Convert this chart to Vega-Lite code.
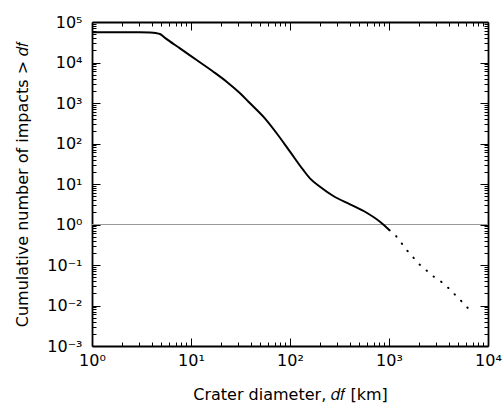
{
  "$schema": "https://vega.github.io/schema/vega-lite/v6.json",
  "width": 396,
  "height": 324,
  "autosize": "none",
  "padding": {"left": 92, "top": 22, "right": 16, "bottom": 63},
  "background": "white",
  "config": {
    "view": {"stroke": null},
    "font": "DejaVu Sans",
    "axis": {
      "domainColor": "black",
      "domainWidth": 1.8,
      "tickColor": "black",
      "tickWidth": 1,
      "labelFont": "DejaVu Sans",
      "labelFontSize": 16,
      "labelColor": "black",
      "titleFont": "DejaVu Sans",
      "titleFontSize": 16,
      "titleFontWeight": "normal",
      "titleColor": "black",
      "grid": false,
      "labelOverlap": false,
      "labelBound": false,
      "labelFlush": false
    }
  },
  "datasets": {
    "solid": [
      {"d": 1, "n": 55700},
      {"d": 2, "n": 55700},
      {"d": 3, "n": 55600},
      {"d": 3.85, "n": 55000},
      {"d": 4.4, "n": 53500},
      {"d": 4.86, "n": 50600},
      {"d": 5.5, "n": 40000},
      {"d": 7.74, "n": 22400},
      {"d": 11.4, "n": 11500},
      {"d": 16.8, "n": 5930},
      {"d": 22.9, "n": 3360},
      {"d": 31.3, "n": 1740},
      {"d": 39.5, "n": 984},
      {"d": 53.8, "n": 459},
      {"d": 73.3, "n": 179},
      {"d": 100, "n": 62.8},
      {"d": 136, "n": 22.2},
      {"d": 159, "n": 13.8},
      {"d": 201, "n": 8.57},
      {"d": 274, "n": 5.06},
      {"d": 404, "n": 3.15},
      {"d": 595, "n": 1.95},
      {"d": 811, "n": 1.17},
      {"d": 1007, "n": 0.73}
    ],
    "dotted": [
      {"d": 1007, "n": 0.73},
      {"d": 1177, "n": 0.52},
      {"d": 1531, "n": 0.2255},
      {"d": 2023, "n": 0.104},
      {"d": 2800, "n": 0.0526},
      {"d": 3327, "n": 0.0396},
      {"d": 3920, "n": 0.0281},
      {"d": 5250, "n": 0.01367},
      {"d": 6300, "n": 0.0085}
    ]
  },
  "layer": [
    {
      "data": {"values": [{"n": 1}]},
      "mark": {"type": "rule", "color": "#999999", "strokeWidth": 1},
      "encoding": {
        "y": {"field": "n", "type": "quantitative", "scale": {"type": "log", "domain": [0.001, 100000]}, "axis": null}
      }
    },
    {
      "data": {"name": "solid"},
      "mark": {"type": "line", "color": "black", "strokeWidth": 2, "interpolate": "monotone"},
      "encoding": {
        "x": {
          "field": "d", "type": "quantitative",
          "scale": {"type": "log", "domain": [1, 10000]},
          "axis": {
            "orient": "bottom",
            "title": "Crater diameter, 𝑑𝑓 [km]",
            "titlePadding": 14,
            "values": [1,2,3,4,5,6,7,8,9,10,20,30,40,50,60,70,80,90,100,200,300,400,500,600,700,800,900,1000,2000,3000,4000,5000,6000,7000,8000,9000,10000],
            "tickSize": {"condition": {"test": "abs(log(datum.value)/LN10 - round(log(datum.value)/LN10)) < 0.001", "value": -8}, "value": -4},
            "labelPadding": 14,
            "labelExpr": "abs(log(datum.value)/LN10 - round(log(datum.value)/LN10)) < 0.001 ? ['10⁻³','10⁻²','10⁻¹','10⁰','10¹','10²','10³','10⁴','10⁵'][round(log(datum.value)/LN10)+3] : ''"
          }
        },
        "y": {
          "field": "n", "type": "quantitative",
          "scale": {"type": "log", "domain": [0.001, 100000]},
          "axis": {
            "orient": "left",
            "title": "Cumulative number of impacts > 𝑑𝑓",
            "titlePadding": 16,
            "values": [0.001,0.002,0.003,0.004,0.005,0.006,0.007,0.008,0.009,0.01,0.02,0.03,0.04,0.05,0.06,0.07,0.08,0.09,0.1,0.2,0.3,0.4,0.5,0.6,0.7,0.8,0.9,1,2,3,4,5,6,7,8,9,10,20,30,40,50,60,70,80,90,100,200,300,400,500,600,700,800,900,1000,2000,3000,4000,5000,6000,7000,8000,9000,10000,20000,30000,40000,50000,60000,70000,80000,90000,100000],
            "tickSize": {"condition": {"test": "abs(log(datum.value)/LN10 - round(log(datum.value)/LN10)) < 0.001", "value": -8}, "value": -4},
            "labelPadding": 18,
            "labelExpr": "abs(log(datum.value)/LN10 - round(log(datum.value)/LN10)) < 0.001 ? ['10⁻³','10⁻²','10⁻¹','10⁰','10¹','10²','10³','10⁴','10⁵'][round(log(datum.value)/LN10)+3] : ''"
          }
        }
      }
    },
    {
      "data": {"name": "dotted"},
      "mark": {"type": "line", "color": "black", "strokeWidth": 2, "strokeDash": [0.5, 8.7], "strokeCap": "round"},
      "encoding": {
        "x": {
          "field": "d", "type": "quantitative",
          "scale": {"type": "log", "domain": [1, 10000]},
          "axis": {
            "orient": "top",
            "title": null,
            "labels": false,
            "values": [1,2,3,4,5,6,7,8,9,10,20,30,40,50,60,70,80,90,100,200,300,400,500,600,700,800,900,1000,2000,3000,4000,5000,6000,7000,8000,9000,10000],
            "tickSize": {"condition": {"test": "abs(log(datum.value)/LN10 - round(log(datum.value)/LN10)) < 0.001", "value": -8}, "value": -4}
          }
        },
        "y": {
          "field": "n", "type": "quantitative",
          "scale": {"type": "log", "domain": [0.001, 100000]},
          "axis": {
            "orient": "right",
            "title": null,
            "labels": false,
            "values": [0.001,0.002,0.003,0.004,0.005,0.006,0.007,0.008,0.009,0.01,0.02,0.03,0.04,0.05,0.06,0.07,0.08,0.09,0.1,0.2,0.3,0.4,0.5,0.6,0.7,0.8,0.9,1,2,3,4,5,6,7,8,9,10,20,30,40,50,60,70,80,90,100,200,300,400,500,600,700,800,900,1000,2000,3000,4000,5000,6000,7000,8000,9000,10000,20000,30000,40000,50000,60000,70000,80000,90000,100000],
            "tickSize": {"condition": {"test": "abs(log(datum.value)/LN10 - round(log(datum.value)/LN10)) < 0.001", "value": -8}, "value": -4}
          }
        }
      }
    }
  ],
  "resolve": {"axis": {"x": "independent", "y": "independent"}}
}
